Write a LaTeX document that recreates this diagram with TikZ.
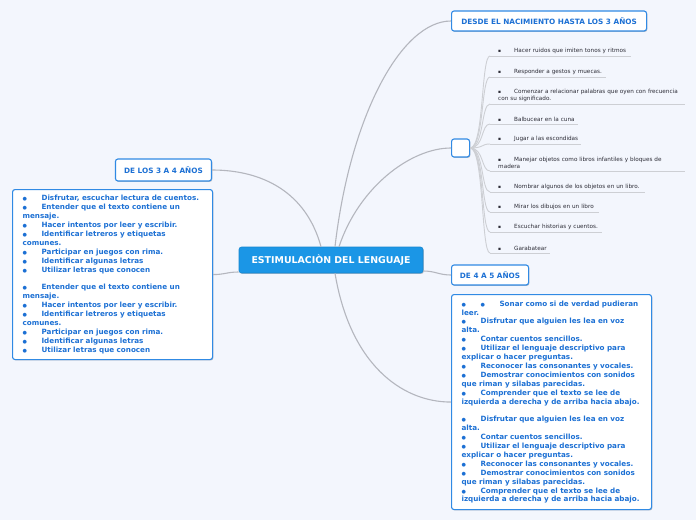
\documentclass[tikz,border=0pt]{standalone}
\usepackage{fontspec}
\setmainfont{DejaVu Sans}
\usetikzlibrary{shadows}
\definecolor{bg}{RGB}{243,246,253}
\definecolor{mblue}{RGB}{27,150,230}
\definecolor{tblue}{RGB}{28,112,212}
\definecolor{bblue}{RGB}{48,138,228}
\definecolor{conn}{RGB}{180,182,190}
\definecolor{conn2}{RGB}{205,207,212}
\definecolor{itxt}{RGB}{45,45,55}
\definecolor{ulc}{RGB}{205,207,212}
\newcommand\bul{\makebox[19pt][l]{\fontsize{5}{5}\selectfont ●}}
\newcommand\sq{\makebox[16pt][l]{\fontsize{4.4}{4.4}\selectfont ▪}}
\begin{document}
\begin{tikzpicture}[x=1pt,y=-1pt,
  shd/.style={drop shadow={shadow xshift=0.8pt,shadow yshift=-0.9pt,fill=black,opacity=0.22}},
  topic/.style={shd,draw=bblue,line width=1.1pt,rounded corners=2.5pt,fill=white,text=tblue,
    font=\fontsize{7.3}{8}\selectfont\bfseries,inner sep=0pt},
  central/.style={shd,draw=mblue!90!black,line width=0.6pt,rounded corners=2.5pt,fill=mblue,text=white,
    font=\fontsize{9.4}{10}\selectfont\bfseries,inner sep=0pt,minimum width=184pt,minimum height=26pt},
  listbox/.style={shd,draw=bblue,line width=1.1pt,rounded corners=2.5pt,fill=white,text=tblue,
    font=\fontsize{7.2}{8.9}\selectfont\bfseries,align=left,text width=180pt,inner xsep=10pt,inner ysep=4pt,anchor=north west},
  item/.style={anchor=south west,text=itxt,font=\fontsize{5.7}{6.6}\selectfont,align=left,
    text width=190pt,inner xsep=8pt,inner ysep=2.2pt},
  mconn/.style={draw=conn,line width=1.1pt},
  iconn/.style={draw=conn2,line width=0.9pt},
  ul/.style={draw=ulc,line width=0.9pt}]
\useasboundingbox[fill=bg] (0,0) rectangle (696,520);

% central
\node[central] (c) at (331,260) {ESTIMULACIÒN DEL LENGUAJE};

% topics
\node[topic,anchor=west,minimum width=195pt,minimum height=20pt] (d) at (451,21) {DESDE EL NACIMIENTO HASTA LOS 3 AÑOS};
\node[topic,anchor=west,minimum width=18pt,minimum height=18pt] (sb) at (451,148) {};
\node[topic,anchor=east,minimum width=96pt,minimum height=22pt] (l3) at (212,170) {DE LOS 3 A 4 AÑOS};
\node[topic,anchor=west,minimum width=77pt,minimum height=20pt] (f) at (451,275) {DE 4 A 5 AÑOS};

% list boxes
\node[listbox,minimum height=170pt] (lb) at (12,189) {%
\bul Disfrutar, escuchar lectura de cuentos.\\
\bul Entender que el texto contiene un\\mensaje.\\
\bul Hacer intentos por leer y escribir.\\
\bul Identificar letreros y etiquetas\\comunes.\\
\bul Participar en juegos con rima.\\
\bul Identificar algunas letras\\
\bul Utilizar letras que conocen\\[8.9pt]
\bul Entender que el texto contiene un\\mensaje.\\
\bul Hacer intentos por leer y escribir.\\
\bul Identificar letreros y etiquetas\\comunes.\\
\bul Participar en juegos con rima.\\
\bul Identificar algunas letras\\
\bul Utilizar letras que conocen};

\node[listbox,minimum height=215pt] (fb) at (451,294) {%
\bul\bul Sonar como si de verdad pudieran\\leer.\\
\bul Disfrutar que alguien les lea en voz\\alta.\\
\bul Contar cuentos sencillos.\\
\bul Utilizar el lenguaje descriptivo para\\explicar o hacer preguntas.\\
\bul Reconocer las consonantes y vocales.\\
\bul Demostrar conocimientos con sonidos\\que riman y silabas parecidas.\\
\bul Comprender que el texto se lee de\\izquierda a derecha y de arriba hacia abajo.\\[8.9pt]
\bul Disfrutar que alguien les lea en voz\\alta.\\
\bul Contar cuentos sencillos.\\
\bul Utilizar el lenguaje descriptivo para\\explicar o hacer preguntas.\\
\bul Reconocer las consonantes y vocales.\\
\bul Demostrar conocimientos con sonidos\\que riman y silabas parecidas.\\
\bul Comprender que el texto se lee de\\izquierda a derecha y de arriba hacia abajo.};

% right items
\node[item] (i1) at (490,56) {\sq Hacer ruidos que imiten tonos y ritmos};
\node[item] (i2) at (490,77) {\sq Responder a gestos y muecas.};
\node[item] (i3) at (490,104) {\sq Comenzar a relacionar palabras que oyen con frecuencia\\con su significado.};
\node[item] (i4) at (490,124) {\sq Balbucear en la cuna};
\node[item] (i5) at (490,144) {\sq Jugar a las escondidas};
\node[item] (i6) at (490,171) {\sq Manejar objetos como libros infantiles y bloques de\\madera};
\node[item] (i7) at (490,192) {\sq Nombrar algunos de los objetos en un libro.};
\node[item] (i8) at (490,212) {\sq Mirar los dibujos en un libro};
\node[item] (i9) at (490,232) {\sq Escuchar historias y cuentos.};
\node[item] (i10) at (490,253) {\sq Garabatear};

\foreach \n/\l in {i1/141,i2/116,i3/195,i4/88,i5/91,i6/195,i7/155,i8/109,i9/112,i10/60}{
  \draw[ul] (\n.south west) -- ++(\l,0);
  \draw[iconn] (sb.east) .. controls +(14,0) and +(-9,0) .. (\n.south west);
}

% main connectors
\draw[mconn] ([xshift=4pt]c.north) .. controls +(15,-130) and +(-50,0) .. (d.west);
\draw[mconn] ([xshift=8pt]c.north) .. controls +(20,-60) and +(-40,0) .. (sb.west);
\draw[mconn] ([xshift=-10pt]c.north) .. controls +(-15,-55) and +(50,0) .. (l3.east);
\draw[mconn] ([yshift=-12pt]c.west) .. controls +(-12,0) and +(12,0) .. (lb.east);
\draw[mconn] ([yshift=-11pt]c.east) .. controls +(12,0) and +(-12,0) .. (f.west);
\draw[mconn] ([xshift=4pt]c.south) .. controls +(15,90) and +(-50,0) .. (fb.west);
\end{tikzpicture}
\end{document}
